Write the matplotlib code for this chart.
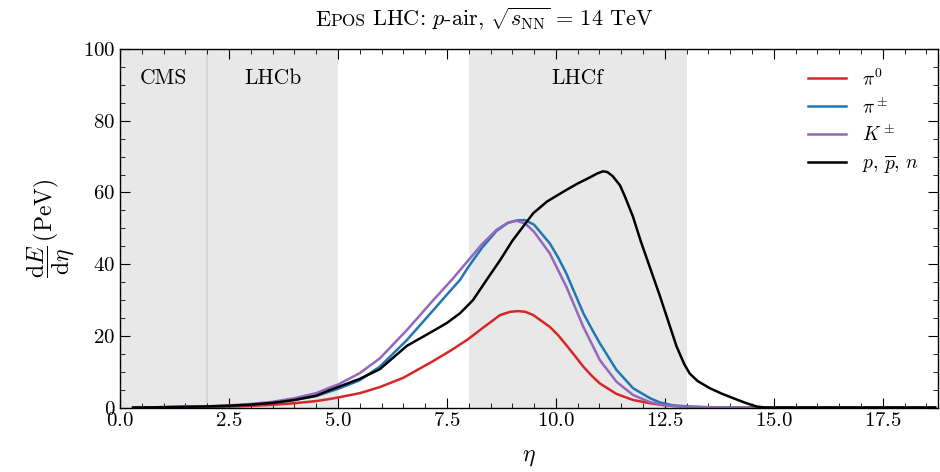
import matplotlib
matplotlib.use("Agg")
import matplotlib.pyplot as plt
from matplotlib.ticker import MultipleLocator

plt.rcParams.update({
    "font.family": "serif",
    "font.serif": ["cmr10"],
    "mathtext.fontset": "cm",
    "axes.formatter.use_mathtext": True,
    "axes.unicode_minus": False,
    "xtick.direction": "in",
    "ytick.direction": "in",
    "xtick.top": True,
    "ytick.right": True,
    "xtick.minor.visible": True,
    "ytick.minor.visible": True,
    "xtick.major.size": 7,
    "ytick.major.size": 7,
    "xtick.minor.size": 3.5,
    "ytick.minor.size": 3.5,
    "axes.linewidth": 1.0,
})

# energy flow per species vs pseudorapidity (PeV)
eta_pi0 = [0.3, 1.0, 2.0, 2.5, 3.0, 3.5, 4.0, 4.5, 4.82, 5.0, 5.5, 5.96, 6.5, 7.19, 7.6,
           7.98, 8.3, 8.72, 8.95, 9.14, 9.3, 9.48, 9.86, 10.05, 10.24, 10.45, 10.63, 10.82,
           11.01, 11.39, 11.77, 12.16, 12.5, 13.0, 13.5, 14.0, 18.7]
de_pi0 = [0.0, 0.05, 0.15, 0.25, 0.45, 0.75, 1.2, 1.8, 2.4, 2.8, 4.0, 5.7, 8.3, 13.0, 16.0,
          19.0, 22.0, 25.8, 26.7, 26.9, 26.7, 25.8, 22.5, 20.2, 17.4, 14.2, 11.4, 8.9,
          6.7, 3.8, 2.1, 1.2, 0.6, 0.2, 0.05, 0.0, 0.0]

eta_pich = [0.3, 1.0, 2.0, 2.5, 3.0, 3.5, 4.0, 4.5, 4.82, 5.0, 5.5, 5.96, 6.58, 7.19, 7.5,
            7.8, 7.98, 8.3, 8.64, 8.9, 9.1, 9.29, 9.5, 9.86, 10.05, 10.24, 10.63, 10.82,
            11.01, 11.39, 11.77, 12.16, 12.39, 12.7, 13.07, 13.5, 14.5, 18.7]
de_pich = [0.0, 0.1, 0.3, 0.5, 0.8, 1.3, 2.1, 3.2, 4.5, 5.2, 7.6, 11.4, 18.8, 27.2, 31.5,
           35.6, 39.0, 44.5, 49.3, 51.5, 52.2, 52.3, 51.0, 45.8, 41.9, 37.4, 26.3, 22.0,
           17.9, 10.5, 5.4, 2.6, 1.4, 0.6, 0.25, 0.1, 0.0, 0.0]

eta_kch = [0.3, 1.0, 2.0, 2.5, 3.0, 3.5, 4.0, 4.5, 4.82, 5.0, 5.5, 5.96, 6.58, 7.19, 7.61,
           7.98, 8.3, 8.64, 8.9, 9.1, 9.3, 9.5, 9.86, 10.24, 10.63, 11.01, 11.39, 11.77,
           12.16, 12.5, 13.0, 14.0, 18.7]
de_kch = [0.0, 0.1, 0.35, 0.6, 1.0, 1.6, 2.6, 4.0, 5.6, 6.4, 9.6, 13.7, 21.6, 30.0, 35.6,
          40.9, 45.5, 49.6, 51.6, 52.1, 51.3, 49.0, 43.0, 33.7, 22.5, 13.2, 7.2, 3.5,
          1.5, 0.6, 0.15, 0.0, 0.0]

eta_nuc = [0.3, 1.0, 2.0, 2.5, 3.0, 3.5, 4.0, 4.5, 4.82, 5.0, 5.5, 5.96, 6.58, 7.19, 7.5,
           7.8, 7.98, 8.1, 8.41, 8.72, 9.0, 9.48, 9.8, 10.24, 10.5, 10.78, 10.95, 11.08,
           11.18, 11.3, 11.47, 11.58, 11.77, 11.95, 12.39, 12.77, 12.95, 13.07, 13.25,
           13.53, 13.8, 14.07, 14.35, 14.6, 14.8, 18.7]
de_nuc = [0.0, 0.1, 0.3, 0.5, 0.8, 1.3, 2.1, 3.3, 4.9, 5.7, 8.0, 10.7, 17.2, 21.4, 23.6,
          26.3, 28.5, 30.0, 35.6, 41.1, 46.5, 54.2, 57.5, 60.7, 62.5, 64.2, 65.3, 65.9,
          65.7, 64.6, 62.0, 59.0, 53.2, 46.3, 31.0, 17.0, 12.0, 9.5, 7.4,
          5.4, 3.9, 2.6, 1.3, 0.3, 0.0, 0.0]

# detector acceptance bands in eta
regions = [("CMS", 0.0, 2.0), ("LHCb", 2.0, 5.0), ("LHCf", 8.0, 13.0)]

fig = plt.figure(figsize=(9.4, 4.72), dpi=100)
ax = fig.add_axes([0.1277, 0.1366, 0.8703, 0.7594])

for name, lo, hi in regions:
    ax.axvspan(lo, hi, color="#e8e8e8", lw=0, zorder=0)
    ax.text((lo + hi) / 2, 92, name, ha="center", va="center", fontsize=15.5)
ax.axvline(2.0, color="#d6d6d6", lw=1.5, zorder=0.5)

ax.plot(eta_pi0, de_pi0, color="#d62728", lw=1.8, label=r"$\pi^0$")
ax.plot(eta_pich, de_pich, color="#1f77b4", lw=1.8, label=r"$\pi^\pm$")
ax.plot(eta_kch, de_kch, color="#9467bd", lw=1.8, label=r"$K^\pm$")
ax.plot(eta_nuc, de_nuc, color="black", lw=1.8, label=r"$p,\,\overline{p},\,n$")

ax.set_xlim(0, 18.77)
ax.set_ylim(0, 100)
ax.xaxis.set_major_locator(MultipleLocator(2.5))
ax.xaxis.set_minor_locator(MultipleLocator(0.5))
ax.yaxis.set_major_locator(MultipleLocator(20))
ax.yaxis.set_minor_locator(MultipleLocator(5))
ax.tick_params(labelsize=15)

ax.set_xlabel(r"$\eta$", fontsize=17, labelpad=11)
ax.set_ylabel(r"$\dfrac{\mathrm{d}E}{\mathrm{d}\eta}\,(\mathrm{PeV})$", fontsize=17, labelpad=4)

ax.legend(loc="upper right", frameon=False, fontsize=14, handlelength=2.0,
          borderaxespad=0.6, labelspacing=0.4)

# title with a small-caps generator name, laid out piece by piece
pieces = [("E", 16), ("POS", 12.5), (r" LHC: $p$-air, $\sqrt{s_{\mathrm{NN}}}\,=\,14$ TeV", 16)]
fig.canvas.draw()
renderer = fig.canvas.get_renderer()
texts = []
for s, size in pieces:
    t = fig.text(0, 0.945, s, fontsize=size, va="baseline", ha="left")
    texts.append(t)
widths = [t.get_window_extent(renderer).width / fig.bbox.width for t in texts]
x = 484.5 / 940 - sum(widths) / 2
for t, w in zip(texts, widths):
    t.set_x(x)
    x += w

fig.savefig("out.png", dpi=100)
